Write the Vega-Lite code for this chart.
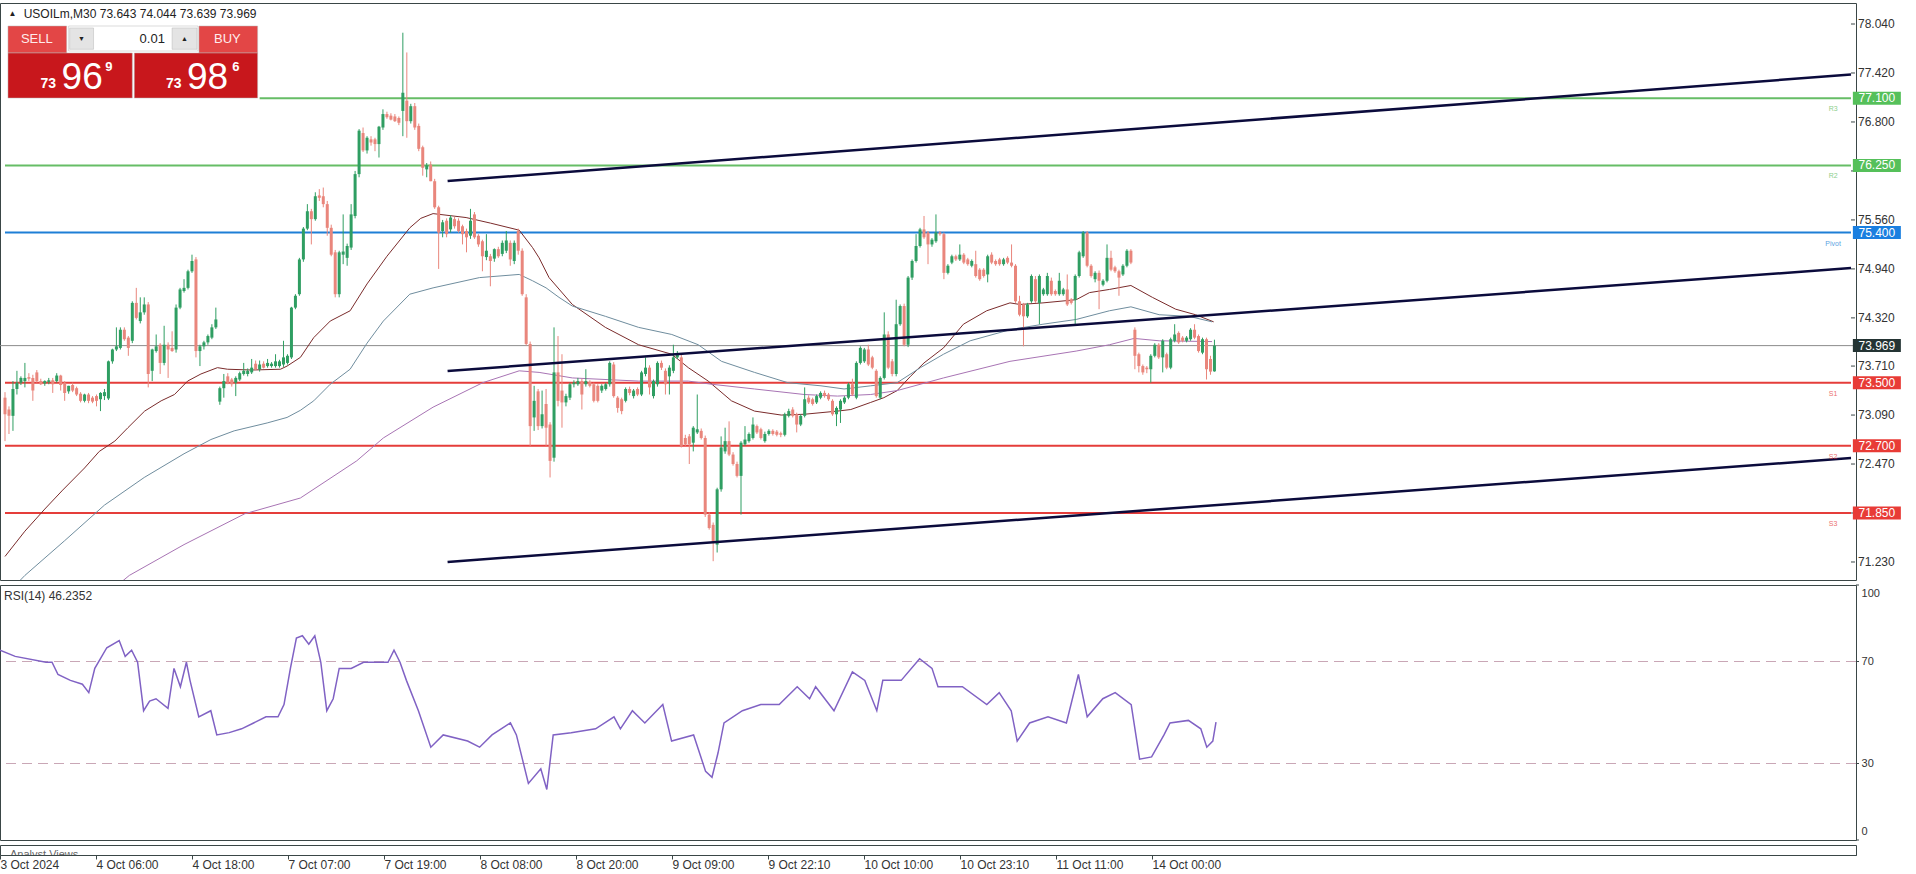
{
"$schema": "https://vega.github.io/schema/vega-lite/v6.json",
"background": "white",
"padding": {"left": -4, "top": 2, "right": 0, "bottom": 0},
"spacing": 3,
"config": {
  "view": {"stroke": "#3a4646", "strokeWidth": 1},
  "axis": {"labelFont": "Liberation Sans", "labelFontSize": 12, "labelColor": "#333333", "domainColor": "#3a4646", "tickColor": "#3a4646", "grid": false, "tickSize": 4},
  "text": {"font": "Liberation Sans"}
},
"datasets": {
"c": [
{"i":0,"o":73.31,"h":73.38,"l":72.76,"c":73.10},{"i":1,"o":73.16,"h":73.20,"l":72.85,"c":73.08},{"i":2,"o":73.08,"h":73.52,"l":72.89,"c":73.42},{"i":3,"o":73.42,"h":73.65,"l":73.35,"c":73.50},{"i":4,"o":73.50,"h":73.58,"l":73.47,"c":73.56},{"i":5,"o":73.52,"h":73.75,"l":73.44,"c":73.56},{"i":6,"o":73.57,"h":73.62,"l":73.52,"c":73.55},{"i":7,"o":73.56,"h":73.60,"l":73.27,"c":73.40},{"i":8,"o":73.63,"h":73.66,"l":73.50,"c":73.52},{"i":9,"o":73.52,"h":73.55,"l":73.47,"c":73.48},
{"i":10,"o":73.49,"h":73.53,"l":73.46,"c":73.52},{"i":11,"o":73.51,"h":73.56,"l":73.48,"c":73.53},{"i":12,"o":73.53,"h":73.56,"l":73.37,"c":73.48},{"i":13,"o":73.52,"h":73.62,"l":73.50,"c":73.59},{"i":14,"o":73.59,"h":73.60,"l":73.40,"c":73.47},{"i":15,"o":73.50,"h":73.52,"l":73.27,"c":73.37},{"i":16,"o":73.39,"h":73.46,"l":73.36,"c":73.46},{"i":17,"o":73.47,"h":73.50,"l":73.38,"c":73.40},{"i":18,"o":73.43,"h":73.45,"l":73.33,"c":73.35},{"i":19,"o":73.36,"h":73.38,"l":73.25,"c":73.27},
{"i":20,"o":73.27,"h":73.36,"l":73.25,"c":73.35},{"i":21,"o":73.35,"h":73.37,"l":73.24,"c":73.27},{"i":22,"o":73.31,"h":73.33,"l":73.24,"c":73.26},{"i":23,"o":73.33,"h":73.35,"l":73.20,"c":73.27},{"i":24,"o":73.29,"h":73.38,"l":73.14,"c":73.37},{"i":25,"o":73.33,"h":73.42,"l":73.28,"c":73.38},{"i":26,"o":73.30,"h":73.78,"l":73.28,"c":73.77},{"i":27,"o":73.77,"h":73.93,"l":73.74,"c":73.92},{"i":28,"o":73.92,"h":74.20,"l":73.90,"c":73.96},{"i":29,"o":73.94,"h":74.20,"l":73.92,"c":74.17},
{"i":30,"o":74.17,"h":74.20,"l":74.03,"c":74.05},{"i":31,"o":74.07,"h":74.09,"l":73.84,"c":73.94},{"i":32,"o":74.03,"h":74.53,"l":74.00,"c":74.51},{"i":33,"o":74.51,"h":74.70,"l":74.30,"c":74.32},{"i":34,"o":74.28,"h":74.58,"l":74.25,"c":74.39},{"i":35,"o":74.39,"h":74.58,"l":74.36,"c":74.49},{"i":36,"o":74.49,"h":74.52,"l":73.44,"c":73.61},{"i":37,"o":73.65,"h":73.93,"l":73.52,"c":73.92},{"i":38,"o":73.90,"h":74.11,"l":73.88,"c":73.96},{"i":39,"o":73.98,"h":74.00,"l":73.61,"c":73.75},
{"i":40,"o":73.75,"h":74.22,"l":73.72,"c":73.98},{"i":41,"o":73.98,"h":74.01,"l":73.56,"c":73.92},{"i":42,"o":73.94,"h":74.15,"l":73.89,"c":73.90},{"i":43,"o":73.92,"h":74.49,"l":73.88,"c":74.45},{"i":44,"o":74.45,"h":74.70,"l":74.43,"c":74.68},{"i":45,"o":74.66,"h":74.81,"l":74.64,"c":74.70},{"i":46,"o":74.70,"h":74.93,"l":74.68,"c":74.91},{"i":47,"o":74.91,"h":75.12,"l":74.89,"c":75.04},{"i":48,"o":75.06,"h":75.09,"l":73.82,"c":73.90},{"i":49,"o":73.90,"h":73.98,"l":73.71,"c":73.96},
{"i":50,"o":73.96,"h":74.03,"l":73.92,"c":74.01},{"i":51,"o":74.01,"h":74.11,"l":73.98,"c":74.09},{"i":52,"o":74.07,"h":74.24,"l":74.05,"c":74.20},{"i":53,"o":74.20,"h":74.45,"l":74.18,"c":74.30},{"i":54,"o":73.26,"h":73.45,"l":73.22,"c":73.43},{"i":55,"o":73.43,"h":73.61,"l":73.31,"c":73.52},{"i":56,"o":73.58,"h":73.62,"l":73.48,"c":73.50},{"i":57,"o":73.54,"h":73.56,"l":73.45,"c":73.48},{"i":58,"o":73.50,"h":73.58,"l":73.33,"c":73.56},{"i":59,"o":73.54,"h":73.64,"l":73.52,"c":73.62},
{"i":60,"o":73.61,"h":73.75,"l":73.59,"c":73.65},{"i":61,"o":73.61,"h":73.68,"l":73.58,"c":73.65},{"i":62,"o":73.63,"h":73.80,"l":73.61,"c":73.69},{"i":63,"o":73.74,"h":73.78,"l":73.66,"c":73.67},{"i":64,"o":73.67,"h":73.78,"l":73.64,"c":73.73},{"i":65,"o":73.74,"h":73.77,"l":73.68,"c":73.69},{"i":66,"o":73.71,"h":73.80,"l":73.69,"c":73.75},{"i":67,"o":73.71,"h":73.76,"l":73.69,"c":73.74},{"i":68,"o":73.71,"h":73.86,"l":73.69,"c":73.77},{"i":69,"o":73.71,"h":73.79,"l":73.69,"c":73.77},
{"i":70,"o":73.73,"h":74.03,"l":73.70,"c":73.82},{"i":71,"o":73.75,"h":73.86,"l":73.73,"c":73.84},{"i":72,"o":73.82,"h":74.46,"l":73.80,"c":74.45},{"i":73,"o":74.45,"h":74.62,"l":74.43,"c":74.60},{"i":74,"o":74.62,"h":75.08,"l":74.60,"c":75.06},{"i":75,"o":75.06,"h":75.47,"l":75.03,"c":75.45},{"i":76,"o":75.45,"h":75.76,"l":75.43,"c":75.67},{"i":77,"o":75.67,"h":75.70,"l":75.25,"c":75.57},{"i":78,"o":75.57,"h":75.91,"l":75.55,"c":75.86},{"i":79,"o":75.87,"h":75.95,"l":75.80,"c":75.84},
{"i":80,"o":75.86,"h":75.97,"l":75.72,"c":75.76},{"i":81,"o":75.76,"h":75.80,"l":75.36,"c":75.46},{"i":82,"o":75.46,"h":75.50,"l":75.10,"c":75.12},{"i":83,"o":75.15,"h":75.18,"l":74.58,"c":74.62},{"i":84,"o":74.62,"h":75.17,"l":74.58,"c":75.15},{"i":85,"o":75.12,"h":75.63,"l":75.00,"c":75.16},{"i":86,"o":75.08,"h":75.26,"l":74.98,"c":75.23},{"i":87,"o":75.21,"h":75.76,"l":75.18,"c":75.63},{"i":88,"o":75.61,"h":76.18,"l":75.58,"c":76.14},{"i":89,"o":76.14,"h":76.71,"l":76.10,"c":76.69},
{"i":90,"o":76.66,"h":76.73,"l":76.42,"c":76.44},{"i":91,"o":76.44,"h":76.62,"l":76.40,"c":76.60},{"i":92,"o":76.58,"h":76.62,"l":76.50,"c":76.54},{"i":93,"o":76.58,"h":76.60,"l":76.43,"c":76.52},{"i":94,"o":76.52,"h":76.75,"l":76.35,"c":76.74},{"i":95,"o":76.73,"h":76.96,"l":76.70,"c":76.90},{"i":96,"o":76.90,"h":76.93,"l":76.84,"c":76.86},{"i":97,"o":76.88,"h":76.91,"l":76.82,"c":76.83},{"i":98,"o":76.87,"h":76.90,"l":76.80,"c":76.81},{"i":99,"o":76.85,"h":76.87,"l":76.76,"c":76.79},
{"i":100,"o":76.94,"h":77.93,"l":76.62,"c":77.17},{"i":101,"o":77.07,"h":77.68,"l":76.60,"c":76.81},{"i":102,"o":76.81,"h":77.03,"l":76.78,"c":77.00},{"i":103,"o":77.00,"h":77.04,"l":76.70,"c":76.73},{"i":104,"o":76.75,"h":76.78,"l":76.43,"c":76.46},{"i":105,"o":76.48,"h":76.50,"l":76.12,"c":76.22},{"i":106,"o":76.20,"h":76.28,"l":76.10,"c":76.25},{"i":107,"o":76.26,"h":76.30,"l":76.05,"c":76.05},{"i":108,"o":76.05,"h":76.08,"l":75.70,"c":75.72},{"i":109,"o":75.72,"h":75.74,"l":74.94,"c":75.40},
{"i":110,"o":75.42,"h":75.56,"l":75.34,"c":75.53},{"i":111,"o":75.55,"h":75.58,"l":75.34,"c":75.38},{"i":112,"o":75.44,"h":75.62,"l":75.40,"c":75.59},{"i":113,"o":75.57,"h":75.60,"l":75.45,"c":75.48},{"i":114,"o":75.55,"h":75.58,"l":75.40,"c":75.42},{"i":115,"o":75.48,"h":75.50,"l":75.25,"c":75.38},{"i":116,"o":75.42,"h":75.45,"l":75.15,"c":75.34},{"i":117,"o":75.36,"h":75.70,"l":75.32,"c":75.55},{"i":118,"o":75.63,"h":75.66,"l":75.32,"c":75.34},{"i":119,"o":75.36,"h":75.38,"l":75.22,"c":75.25},
{"i":120,"o":75.29,"h":75.31,"l":74.91,"c":75.10},{"i":121,"o":75.09,"h":75.38,"l":75.05,"c":75.17},{"i":122,"o":75.10,"h":75.13,"l":74.72,"c":75.04},{"i":123,"o":75.07,"h":75.20,"l":75.03,"c":75.19},{"i":124,"o":75.19,"h":75.22,"l":75.08,"c":75.10},{"i":125,"o":75.13,"h":75.30,"l":75.10,"c":75.27},{"i":126,"o":75.17,"h":75.42,"l":75.14,"c":75.30},{"i":127,"o":75.27,"h":75.30,"l":74.98,"c":75.06},{"i":128,"o":75.04,"h":75.30,"l":75.00,"c":75.27},{"i":129,"o":75.42,"h":75.45,"l":75.12,"c":75.17},
{"i":130,"o":75.17,"h":75.20,"l":74.60,"c":74.62},{"i":131,"o":74.58,"h":74.62,"l":73.97,"c":73.99},{"i":132,"o":73.99,"h":74.02,"l":72.70,"c":72.95},{"i":133,"o":73.06,"h":73.46,"l":72.89,"c":73.27},{"i":134,"o":73.39,"h":73.42,"l":72.90,"c":72.95},{"i":135,"o":72.95,"h":73.40,"l":72.92,"c":73.10},{"i":136,"o":73.23,"h":73.42,"l":72.70,"c":72.93},{"i":137,"o":72.97,"h":73.00,"l":72.30,"c":72.51},{"i":138,"o":72.55,"h":74.20,"l":72.50,"c":73.63},{"i":139,"o":73.63,"h":74.09,"l":73.20,"c":73.27},
{"i":140,"o":73.40,"h":73.86,"l":72.93,"c":73.25},{"i":141,"o":73.25,"h":73.36,"l":73.20,"c":73.33},{"i":142,"o":73.31,"h":73.50,"l":73.28,"c":73.48},{"i":143,"o":73.48,"h":73.53,"l":73.44,"c":73.50},{"i":144,"o":73.48,"h":73.56,"l":73.46,"c":73.52},{"i":145,"o":73.52,"h":73.55,"l":73.16,"c":73.35},{"i":146,"o":73.48,"h":73.67,"l":73.45,"c":73.52},{"i":147,"o":73.51,"h":73.53,"l":73.44,"c":73.46},{"i":148,"o":73.48,"h":73.50,"l":73.25,"c":73.27},{"i":149,"o":73.46,"h":73.48,"l":73.25,"c":73.27},
{"i":150,"o":73.40,"h":73.48,"l":73.37,"c":73.46},{"i":151,"o":73.42,"h":73.50,"l":73.40,"c":73.48},{"i":152,"o":73.48,"h":73.77,"l":73.45,"c":73.75},{"i":153,"o":73.73,"h":73.76,"l":73.31,"c":73.33},{"i":154,"o":73.31,"h":73.33,"l":73.12,"c":73.18},{"i":155,"o":73.29,"h":73.31,"l":73.10,"c":73.14},{"i":156,"o":73.27,"h":73.44,"l":73.25,"c":73.42},{"i":157,"o":73.42,"h":73.45,"l":73.34,"c":73.37},{"i":158,"o":73.33,"h":73.42,"l":73.30,"c":73.40},{"i":159,"o":73.42,"h":73.44,"l":73.33,"c":73.35},
{"i":160,"o":73.35,"h":73.65,"l":73.33,"c":73.63},{"i":161,"o":73.61,"h":73.82,"l":73.58,"c":73.69},{"i":162,"o":73.69,"h":73.72,"l":73.35,"c":73.44},{"i":163,"o":73.33,"h":73.54,"l":73.30,"c":73.52},{"i":164,"o":73.48,"h":73.77,"l":73.45,"c":73.75},{"i":165,"o":73.75,"h":73.78,"l":73.66,"c":73.69},{"i":166,"o":73.65,"h":73.68,"l":73.35,"c":73.48},{"i":167,"o":73.58,"h":73.72,"l":73.35,"c":73.69},{"i":168,"o":73.65,"h":73.98,"l":73.62,"c":73.82},{"i":169,"o":73.82,"h":73.90,"l":73.80,"c":73.86},
{"i":170,"o":73.82,"h":73.85,"l":72.68,"c":72.70},{"i":171,"o":72.80,"h":72.84,"l":72.70,"c":72.72},{"i":172,"o":72.82,"h":72.85,"l":72.47,"c":72.72},{"i":173,"o":72.74,"h":72.95,"l":72.63,"c":72.93},{"i":174,"o":72.87,"h":73.35,"l":72.85,"c":72.91},{"i":175,"o":72.89,"h":72.92,"l":72.78,"c":72.80},{"i":176,"o":72.80,"h":72.83,"l":71.80,"c":71.83},{"i":177,"o":71.83,"h":71.86,"l":71.64,"c":71.66},{"i":178,"o":71.70,"h":71.73,"l":71.24,"c":71.47},{"i":179,"o":71.45,"h":72.17,"l":71.35,"c":72.15},
{"i":180,"o":72.15,"h":72.82,"l":72.12,"c":72.68},{"i":181,"o":72.63,"h":72.93,"l":72.60,"c":72.76},{"i":182,"o":72.76,"h":73.01,"l":72.57,"c":72.59},{"i":183,"o":72.59,"h":72.62,"l":72.45,"c":72.47},{"i":184,"o":72.47,"h":72.50,"l":72.30,"c":72.32},{"i":185,"o":72.32,"h":72.76,"l":71.83,"c":72.74},{"i":186,"o":72.72,"h":72.95,"l":72.70,"c":72.78},{"i":187,"o":72.76,"h":72.87,"l":72.74,"c":72.85},{"i":188,"o":72.80,"h":73.06,"l":72.78,"c":72.97},{"i":189,"o":72.95,"h":72.97,"l":72.85,"c":72.87},
{"i":190,"o":72.91,"h":72.93,"l":72.78,"c":72.80},{"i":191,"o":72.76,"h":72.88,"l":72.74,"c":72.85},{"i":192,"o":72.85,"h":72.91,"l":72.83,"c":72.89},{"i":193,"o":72.89,"h":72.91,"l":72.83,"c":72.85},{"i":194,"o":72.88,"h":72.90,"l":72.82,"c":72.84},{"i":195,"o":72.86,"h":72.88,"l":72.81,"c":72.84},{"i":196,"o":72.84,"h":73.12,"l":72.82,"c":73.10},{"i":197,"o":73.08,"h":73.17,"l":73.06,"c":73.14},{"i":198,"o":73.16,"h":73.19,"l":73.06,"c":73.08},{"i":199,"o":73.10,"h":73.12,"l":72.87,"c":72.97},
{"i":200,"o":72.97,"h":73.10,"l":72.95,"c":73.08},{"i":201,"o":73.08,"h":73.44,"l":73.06,"c":73.29},{"i":202,"o":73.31,"h":73.34,"l":73.23,"c":73.25},{"i":203,"o":73.29,"h":73.31,"l":73.21,"c":73.23},{"i":204,"o":73.25,"h":73.35,"l":73.23,"c":73.33},{"i":205,"o":73.31,"h":73.39,"l":73.29,"c":73.37},{"i":206,"o":73.37,"h":73.40,"l":73.31,"c":73.33},{"i":207,"o":73.35,"h":73.37,"l":73.27,"c":73.29},{"i":208,"o":73.27,"h":73.29,"l":73.08,"c":73.10},{"i":209,"o":73.10,"h":73.20,"l":72.95,"c":73.18},
{"i":210,"o":73.16,"h":73.29,"l":72.99,"c":73.27},{"i":211,"o":73.25,"h":73.33,"l":73.23,"c":73.31},{"i":212,"o":73.31,"h":73.50,"l":73.29,"c":73.48},{"i":213,"o":73.48,"h":73.55,"l":73.33,"c":73.35},{"i":214,"o":73.31,"h":73.77,"l":73.29,"c":73.75},{"i":215,"o":73.75,"h":73.96,"l":73.73,"c":73.94},{"i":216,"o":73.77,"h":73.94,"l":73.75,"c":73.92},{"i":217,"o":73.92,"h":73.98,"l":73.71,"c":73.73},{"i":218,"o":73.82,"h":73.84,"l":73.67,"c":73.69},{"i":219,"o":73.65,"h":73.67,"l":73.31,"c":73.33},
{"i":220,"o":73.31,"h":73.58,"l":73.29,"c":73.56},{"i":221,"o":73.56,"h":74.39,"l":73.54,"c":74.11},{"i":222,"o":74.11,"h":74.15,"l":73.67,"c":73.69},{"i":223,"o":73.77,"h":73.80,"l":73.58,"c":73.61},{"i":224,"o":73.61,"h":74.55,"l":73.58,"c":74.24},{"i":225,"o":74.24,"h":74.49,"l":74.22,"c":74.47},{"i":226,"o":74.47,"h":74.50,"l":73.96,"c":73.98},{"i":227,"o":73.98,"h":74.85,"l":73.95,"c":74.83},{"i":228,"o":74.83,"h":75.06,"l":74.80,"c":75.04},{"i":229,"o":75.04,"h":75.38,"l":75.02,"c":75.23},
{"i":230,"o":75.23,"h":75.46,"l":75.21,"c":75.44},{"i":231,"o":75.44,"h":75.61,"l":75.32,"c":75.34},{"i":232,"o":75.40,"h":75.42,"l":75.00,"c":75.25},{"i":233,"o":75.25,"h":75.33,"l":75.22,"c":75.31},{"i":234,"o":75.29,"h":75.63,"l":75.27,"c":75.40},{"i":235,"o":75.40,"h":75.42,"l":75.36,"c":75.38},{"i":236,"o":75.38,"h":75.40,"l":74.81,"c":74.89},{"i":237,"o":74.89,"h":75.00,"l":74.87,"c":74.98},{"i":238,"o":75.02,"h":75.12,"l":75.00,"c":75.10},{"i":239,"o":75.10,"h":75.12,"l":75.04,"c":75.06},
{"i":240,"o":75.06,"h":75.25,"l":75.04,"c":75.12},{"i":241,"o":75.12,"h":75.14,"l":75.00,"c":75.02},{"i":242,"o":75.06,"h":75.08,"l":74.98,"c":75.00},{"i":243,"o":74.98,"h":75.06,"l":74.96,"c":75.04},{"i":244,"o":75.00,"h":75.17,"l":74.83,"c":74.85},{"i":245,"o":74.93,"h":74.95,"l":74.79,"c":74.81},{"i":246,"o":74.93,"h":74.95,"l":74.83,"c":74.85},{"i":247,"o":74.87,"h":75.12,"l":74.77,"c":75.10},{"i":248,"o":75.12,"h":75.15,"l":75.00,"c":75.02},{"i":249,"o":75.04,"h":75.06,"l":74.98,"c":75.00},
{"i":250,"o":75.06,"h":75.08,"l":74.98,"c":75.00},{"i":251,"o":75.00,"h":75.08,"l":74.98,"c":75.06},{"i":252,"o":75.08,"h":75.10,"l":75.00,"c":75.02},{"i":253,"o":75.02,"h":75.25,"l":74.96,"c":74.98},{"i":254,"o":74.98,"h":75.00,"l":74.51,"c":74.53},{"i":255,"o":74.53,"h":74.60,"l":74.34,"c":74.36},{"i":256,"o":74.49,"h":74.51,"l":73.96,"c":74.34},{"i":257,"o":74.34,"h":74.51,"l":74.32,"c":74.49},{"i":258,"o":74.53,"h":74.87,"l":74.51,"c":74.85},{"i":259,"o":74.81,"h":74.85,"l":74.51,"c":74.53},
{"i":260,"o":74.51,"h":74.87,"l":74.24,"c":74.85},{"i":261,"o":74.62,"h":74.70,"l":74.60,"c":74.68},{"i":262,"o":74.62,"h":74.89,"l":74.60,"c":74.85},{"i":263,"o":74.79,"h":74.83,"l":74.60,"c":74.62},{"i":264,"o":74.66,"h":74.68,"l":74.60,"c":74.62},{"i":265,"o":74.62,"h":74.89,"l":74.60,"c":74.79},{"i":266,"o":74.62,"h":74.70,"l":74.60,"c":74.68},{"i":267,"o":74.68,"h":74.87,"l":74.47,"c":74.49},{"i":268,"o":74.55,"h":74.57,"l":74.49,"c":74.51},{"i":269,"o":74.55,"h":74.87,"l":74.24,"c":74.85},
{"i":270,"o":74.85,"h":75.17,"l":74.83,"c":75.15},{"i":271,"o":75.10,"h":75.42,"l":75.08,"c":75.40},{"i":272,"o":75.40,"h":75.42,"l":74.96,"c":74.98},{"i":273,"o":74.98,"h":75.00,"l":74.83,"c":74.85},{"i":274,"o":74.81,"h":74.91,"l":74.77,"c":74.89},{"i":275,"o":74.89,"h":74.92,"l":74.43,"c":74.79},{"i":276,"o":74.74,"h":74.81,"l":74.72,"c":74.79},{"i":277,"o":74.79,"h":75.25,"l":74.77,"c":75.08},{"i":278,"o":75.08,"h":75.17,"l":74.91,"c":74.93},{"i":279,"o":74.96,"h":74.98,"l":74.89,"c":74.91},
{"i":280,"o":74.91,"h":74.93,"l":74.60,"c":74.83},{"i":281,"o":74.87,"h":75.00,"l":74.85,"c":74.98},{"i":282,"o":74.98,"h":75.19,"l":74.96,"c":75.17},{"i":283,"o":75.17,"h":75.19,"l":75.00,"c":75.02},{"i":284,"o":74.17,"h":74.20,"l":73.67,"c":73.84},{"i":285,"o":73.86,"h":73.88,"l":73.63,"c":73.71},{"i":286,"o":73.71,"h":73.73,"l":73.60,"c":73.63},{"i":287,"o":73.69,"h":73.71,"l":73.62,"c":73.67},{"i":288,"o":73.67,"h":73.86,"l":73.50,"c":73.84},{"i":289,"o":73.84,"h":74.00,"l":73.82,"c":73.98},
{"i":290,"o":73.98,"h":74.00,"l":73.80,"c":73.82},{"i":291,"o":73.82,"h":74.05,"l":73.63,"c":74.03},{"i":292,"o":73.86,"h":73.88,"l":73.67,"c":73.69},{"i":293,"o":73.69,"h":74.07,"l":73.67,"c":74.05},{"i":294,"o":74.03,"h":74.24,"l":74.01,"c":74.11},{"i":295,"o":74.13,"h":74.15,"l":73.99,"c":74.01},{"i":296,"o":74.07,"h":74.09,"l":74.01,"c":74.03},{"i":297,"o":74.03,"h":74.09,"l":74.01,"c":74.07},{"i":298,"o":74.05,"h":74.19,"l":74.03,"c":74.17},{"i":299,"o":74.17,"h":74.24,"l":74.05,"c":74.07},
{"i":300,"o":74.09,"h":74.11,"l":73.88,"c":73.90},{"i":301,"o":73.88,"h":74.07,"l":73.86,"c":74.05},{"i":302,"o":74.05,"h":74.07,"l":73.54,"c":73.67},{"i":303,"o":73.80,"h":73.84,"l":73.60,"c":73.64},{"i":304,"o":73.643,"h":74.044,"l":73.639,"c":73.969}
],
"ma": [
{"k":"m1","i":0,"v":71.30},{"k":"m1","i":5,"v":71.62},{"k":"m1","i":10,"v":71.90},{"k":"m1","i":14.5,"v":72.14},{"k":"m1","i":20,"v":72.42},{"k":"m1","i":23.7,"v":72.63},{"k":"m1","i":27.6,"v":72.76},{"k":"m1","i":30.9,"v":72.93},{"k":"m1","i":35.1,"v":73.14},{"k":"m1","i":39.25,"v":73.27},{"k":"m1","i":42.6,"v":73.35},{"k":"m1","i":45.9,"v":73.52},{"k":"m1","i":49.25,"v":73.61},{"k":"m1","i":53.4,"v":73.69},{"k":"m1","i":55.9,"v":73.67},{"k":"m1","i":62,"v":73.66},{"k":"m1","i":69.25,"v":73.67},{"k":"m1","i":70.9,"v":73.71},{"k":"m1","i":74.25,"v":73.82},{"k":"m1","i":77.6,"v":74.07},{"k":"m1","i":81.75,"v":74.28},{"k":"m1","i":86.75,"v":74.41},{"k":"m1","i":91,"v":74.75},{"k":"m1","i":96,"v":75.10},{"k":"m1","i":101.75,"v":75.46},{"k":"m1","i":104.5,"v":75.58},{"k":"m1","i":107.6,"v":75.64},{"k":"m1","i":115.9,"v":75.59},{"k":"m1","i":122,"v":75.52},{"k":"m1","i":129.25,"v":75.43},{"k":"m1","i":132.6,"v":75.21},{"k":"m1","i":134.25,"v":75.08},{"k":"m1","i":136.75,"v":74.83},{"k":"m1","i":142.6,"v":74.49},{"k":"m1","i":150.9,"v":74.20},{"k":"m1","i":159.25,"v":73.98},{"k":"m1","i":167.6,"v":73.86},{"k":"m1","i":171.75,"v":73.69},{"k":"m1","i":176.75,"v":73.52},{"k":"m1","i":182.6,"v":73.27},{"k":"m1","i":188.4,"v":73.14},{"k":"m1","i":195.1,"v":73.09},{"k":"m1","i":200.9,"v":73.10},{"k":"m1","i":209.25,"v":73.14},{"k":"m1","i":212.6,"v":73.16},{"k":"m1","i":217.6,"v":73.25},{"k":"m1","i":220.9,"v":73.31},{"k":"m1","i":224.25,"v":73.40},{"k":"m1","i":227.6,"v":73.58},{"k":"m1","i":231,"v":73.75},{"k":"m1","i":235.9,"v":73.94},{"k":"m1","i":240.9,"v":74.24},{"k":"m1","i":246.75,"v":74.41},{"k":"m1","i":252.6,"v":74.51},{"k":"m1","i":255.1,"v":74.49},{"k":"m1","i":260.9,"v":74.51},{"k":"m1","i":269.25,"v":74.55},{"k":"m1","i":272.6,"v":74.64},{"k":"m1","i":277.6,"v":74.68},{"k":"m1","i":283,"v":74.73},{"k":"m1","i":288.4,"v":74.58},{"k":"m1","i":294.25,"v":74.43},{"k":"m1","i":299.25,"v":74.36},{"k":"m1","i":303.8,"v":74.27},
{"k":"m2","i":0,"v":70.80},{"k":"m2","i":5,"v":71.06},{"k":"m2","i":15,"v":71.50},{"k":"m2","i":25,"v":71.95},{"k":"m2","i":35,"v":72.30},{"k":"m2","i":45,"v":72.60},{"k":"m2","i":51.75,"v":72.78},{"k":"m2","i":57.6,"v":72.89},{"k":"m2","i":65.9,"v":72.99},{"k":"m2","i":70.9,"v":73.06},{"k":"m2","i":74.25,"v":73.15},{"k":"m2","i":77.6,"v":73.27},{"k":"m2","i":81.75,"v":73.48},{"k":"m2","i":86.75,"v":73.67},{"k":"m2","i":91,"v":74.00},{"k":"m2","i":95.1,"v":74.28},{"k":"m2","i":101.75,"v":74.62},{"k":"m2","i":107.6,"v":74.70},{"k":"m2","i":119.25,"v":74.83},{"k":"m2","i":129.25,"v":74.87},{"k":"m2","i":132.6,"v":74.79},{"k":"m2","i":136,"v":74.70},{"k":"m2","i":139.25,"v":74.58},{"k":"m2","i":142.6,"v":74.47},{"k":"m2","i":150.9,"v":74.34},{"k":"m2","i":159.25,"v":74.20},{"k":"m2","i":167.6,"v":74.11},{"k":"m2","i":174.25,"v":73.98},{"k":"m2","i":180.1,"v":73.77},{"k":"m2","i":188.4,"v":73.63},{"k":"m2","i":196.75,"v":73.50},{"k":"m2","i":205.1,"v":73.46},{"k":"m2","i":210.9,"v":73.42},{"k":"m2","i":217.6,"v":73.46},{"k":"m2","i":224.25,"v":73.50},{"k":"m2","i":230.1,"v":73.69},{"k":"m2","i":235.9,"v":73.86},{"k":"m2","i":242.6,"v":74.03},{"k":"m2","i":252.6,"v":74.17},{"k":"m2","i":260.9,"v":74.24},{"k":"m2","i":269.25,"v":74.30},{"k":"m2","i":277.6,"v":74.41},{"k":"m2","i":283,"v":74.46},{"k":"m2","i":290.1,"v":74.36},{"k":"m2","i":297.6,"v":74.34},{"k":"m2","i":303.4,"v":74.27},
{"k":"m3","i":25,"v":70.80},{"k":"m3","i":31.25,"v":71.06},{"k":"m3","i":45,"v":71.45},{"k":"m3","i":60.25,"v":71.84},{"k":"m3","i":74.25,"v":72.04},{"k":"m3","i":88.4,"v":72.51},{"k":"m3","i":95.1,"v":72.80},{"k":"m3","i":107.6,"v":73.19},{"k":"m3","i":120.1,"v":73.50},{"k":"m3","i":129.25,"v":73.65},{"k":"m3","i":134.25,"v":73.63},{"k":"m3","i":142.6,"v":73.56},{"k":"m3","i":159.25,"v":73.52},{"k":"m3","i":171.75,"v":73.52},{"k":"m3","i":177.6,"v":73.48},{"k":"m3","i":188.4,"v":73.42},{"k":"m3","i":200.9,"v":73.35},{"k":"m3","i":209.25,"v":73.33},{"k":"m3","i":217.6,"v":73.35},{"k":"m3","i":224.25,"v":73.40},{"k":"m3","i":235.9,"v":73.56},{"k":"m3","i":252.6,"v":73.77},{"k":"m3","i":269.25,"v":73.90},{"k":"m3","i":277.6,"v":73.98},{"k":"m3","i":283.8,"v":74.06},{"k":"m3","i":290.1,"v":74.03},{"k":"m3","i":303.4,"v":74.02}
],
"tl": [
{"k":"a","i":111.25,"p":76.053},{"k":"a","i":464,"p":77.40},
{"k":"b","i":111.25,"p":73.648},{"k":"b","i":464,"p":74.95},
{"k":"c","i":111.25,"p":71.23},{"k":"c","i":464,"p":72.546}
],
"lv": [
{"t":"R","lab":"R3","p":77.1,"x0":64,"txt":"77.100"},
{"t":"R","lab":"R2","p":76.25,"x0":0,"txt":"76.250"},
{"t":"P","lab":"Pivot","p":75.4,"x0":0,"txt":"75.400"},
{"t":"S","lab":"S1","p":73.5,"x0":0,"txt":"73.500"},
{"t":"S","lab":"S2","p":72.7,"x0":0,"txt":"72.700"},
{"t":"S","lab":"S3","p":71.85,"x0":0,"txt":"71.850"}
],
"cur": [{"t":"C","p":73.969,"txt":"73.969"}],
"yt": [{"p":78.04},{"p":77.42},{"p":76.8},{"p":76.18},{"p":75.56},{"p":74.94},{"p":74.32},{"p":73.71},{"p":73.09},{"p":72.47},{"p":71.85},{"p":71.23}],
"ytl": [{"p":78.04},{"p":77.42},{"p":76.8},{"p":75.56},{"p":74.94},{"p":74.32},{"p":73.71},{"p":73.09},{"p":72.47},{"p":71.23}],
"ui": [
{"part":"hdr","x1":0.75,"x2":15.5,"y1":78.015,"y2":77.673},
{"part":"hdr","x1":48.75,"x2":63.5,"y1":78.015,"y2":77.673},
{"part":"box","x1":16,"x2":48.5,"y1":78.015,"y2":77.698},
{"part":"btn","x1":16.25,"x2":22.25,"y1":77.99,"y2":77.72},
{"part":"btn","x1":42,"x2":48.25,"y1":77.99,"y2":77.72},
{"part":"big","x1":0.75,"x2":32,"y1":77.673,"y2":77.103},
{"part":"big","x1":32.5,"x2":63.5,"y1":77.673,"y2":77.103}
],
"rsi": [
{"i":0,"v":74.4},{"i":3.8,"v":72.0},{"i":11.5,"v":69.7},{"i":13,"v":69.7},{"i":14.5,"v":64.9},{"i":17.6,"v":62.6},{"i":20.6,"v":61.1},{"i":22.2,"v":57.8},{"i":23.7,"v":67.3},{"i":26.7,"v":75.4},{"i":29.8,"v":78.2},{"i":31.3,"v":72.0},{"i":32.9,"v":74.4},{"i":34.4,"v":69.7},{"i":35.9,"v":50.7},{"i":37.4,"v":54.5},{"i":39,"v":55.4},{"i":42,"v":51.6},{"i":43.5,"v":67.3},{"i":45.1,"v":60.1},{"i":46.6,"v":69.7},{"i":47.5,"v":62.6},{"i":49.7,"v":48.3},{"i":52.7,"v":50.7},{"i":54.2,"v":41.2},{"i":57.3,"v":42.1},{"i":60.4,"v":43.6},{"i":63.4,"v":45.9},{"i":66.5,"v":48.3},{"i":69.5,"v":48.3},{"i":71,"v":53.1},{"i":72.6,"v":67.3},{"i":74.1,"v":79.2},{"i":75.6,"v":80.1},{"i":77.2,"v":76.8},{"i":78.7,"v":80.1},{"i":80.2,"v":69.7},{"i":81.7,"v":50.7},{"i":83.3,"v":55.4},{"i":84.8,"v":67.3},{"i":87.8,"v":67.3},{"i":90.9,"v":69.7},{"i":94,"v":69.7},{"i":97,"v":69.7},{"i":98.5,"v":74.4},{"i":100,"v":69.7},{"i":101.6,"v":62.6},{"i":104.6,"v":50.7},{"i":107.7,"v":36.4},{"i":110.8,"v":41.2},{"i":116.9,"v":38.8},{"i":119.9,"v":36.4},{"i":123,"v":41.2},{"i":127.6,"v":45.9},{"i":129.1,"v":41.2},{"i":130.6,"v":31.7},{"i":132.1,"v":22.2},{"i":135.2,"v":27.9},{"i":136.7,"v":19.8},{"i":138.3,"v":41.2},{"i":142.8,"v":42.1},{"i":148.9,"v":43.6},{"i":153.5,"v":48.3},{"i":155.1,"v":43.6},{"i":158.1,"v":50.7},{"i":161.2,"v":45.9},{"i":165.7,"v":53.1},{"i":167.9,"v":38.8},{"i":173.4,"v":41.2},{"i":176.4,"v":26.9},{"i":178,"v":24.6},{"i":179.5,"v":34.1},{"i":181,"v":45.9},{"i":185.6,"v":50.7},{"i":190.2,"v":53.1},{"i":194.8,"v":53.1},{"i":199.3,"v":60.1},{"i":202.4,"v":55.4},{"i":203.9,"v":60.1},{"i":208.5,"v":50.7},{"i":213.1,"v":65.9},{"i":216.2,"v":62.6},{"i":219.2,"v":50.7},{"i":220.7,"v":62.6},{"i":225.3,"v":62.6},{"i":229.9,"v":71.1},{"i":233,"v":67.3},{"i":234.5,"v":60.1},{"i":240.6,"v":60.1},{"i":246.7,"v":53.1},{"i":249.8,"v":57.8},{"i":252.8,"v":50.7},{"i":254.3,"v":38.8},{"i":257.4,"v":45.9},{"i":262,"v":48.3},{"i":266.6,"v":45.9},{"i":269.6,"v":64.9},{"i":271.8,"v":48.3},{"i":275.7,"v":55.4},{"i":278.8,"v":57.8},{"i":282.8,"v":53.1},{"i":284.9,"v":31.7},{"i":287.9,"v":32.6},{"i":291,"v":41.2},{"i":292.5,"v":45.9},{"i":297.1,"v":46.9},{"i":300.2,"v":43.6},{"i":301.7,"v":36.4},{"i":303.2,"v":38.8},{"i":304,"v":46.2}
]
},
"vconcat": [
{
 "width": 1856, "height": 577,
 "resolve": {"scale": {"color": "independent"}},
 "layer": [
  {"data": {"name": "lv"}, "mark": {"type": "rule", "strokeWidth": 2},
   "encoding": {
    "x": {"field": "x0", "type": "quantitative", "scale": {"domain": [0, 464], "nice": false, "zero": false}, "axis": null},
    "x2": {"datum": 464},
    "y": {"field": "p", "type": "quantitative", "scale": {"domain": [71.002, 78.306], "nice": false, "zero": false}, "axis": null},
    "color": {"field": "t", "type": "nominal", "scale": {"domain": ["R", "P", "S"], "range": ["#66bd66", "#1e7fd6", "#e53d3a"]}, "legend": null}}},
  {"data": {"name": "cur"}, "mark": {"type": "rule", "strokeWidth": 1, "color": "#8c8c8c"},
   "encoding": {"y": {"field": "p", "type": "quantitative", "axis": null}}},
  {"data": {"name": "ma"}, "mark": {"type": "line", "strokeWidth": 1, "clip": true},
   "encoding": {
    "x": {"field": "i", "type": "quantitative", "axis": null},
    "y": {"field": "v", "type": "quantitative", "axis": null},
    "color": {"field": "k", "type": "nominal", "scale": {"domain": ["m1", "m2", "m3"], "range": ["#7a2b2b", "#6f8d9e", "#a874b4"]}, "legend": null}}},
  {"data": {"name": "c"}, "mark": {"type": "rule", "strokeWidth": 1},
   "encoding": {
    "x": {"field": "i", "type": "quantitative", "axis": null},
    "y": {"field": "l", "type": "quantitative", "axis": null},
    "y2": {"field": "h"},
    "color": {"condition": {"test": "datum.c >= datum.o", "value": "#2f9e62"}, "value": "#e9867c"}}},
  {"data": {"name": "c"}, "mark": {"type": "bar", "width": 3, "orient": "vertical"},
   "encoding": {
    "x": {"field": "i", "type": "quantitative", "axis": null},
    "y": {"field": "o", "type": "quantitative", "axis": null},
    "y2": {"field": "c"},
    "color": {"condition": {"test": "datum.c >= datum.o", "value": "#2f9e62"}, "value": "#e9867c"}}},
  {"data": {"name": "tl"}, "mark": {"type": "line", "strokeWidth": 2.5, "color": "#0b0b3c", "clip": true},
   "encoding": {
    "x": {"field": "i", "type": "quantitative", "axis": null},
    "y": {"field": "p", "type": "quantitative", "axis": null},
    "detail": {"field": "k"}}},
  {"data": {"name": "yt"}, "mark": {"type": "rule", "color": "#3a4646", "strokeWidth": 1},
   "encoding": {"x": {"datum": 464, "axis": null}, "x2": {"datum": 465}, "y": {"field": "p", "type": "quantitative", "axis": null}}},
  {"data": {"name": "ytl"}, "mark": {"type": "text", "fontSize": 12, "color": "#333333", "align": "left", "baseline": "middle"},
   "encoding": {"x": {"datum": 465.75, "axis": null}, "y": {"field": "p", "type": "quantitative", "axis": null}, "text": {"field": "p", "type": "quantitative", "format": ".3f"}}},
  {"data": {"name": "lv"}, "mark": {"type": "text", "fontSize": 7, "dy": 11, "align": "center", "opacity": 0.75},
   "encoding": {
    "x": {"datum": 459.5, "axis": null},
    "y": {"field": "p", "type": "quantitative", "axis": null},
    "text": {"field": "lab"},
    "color": {"field": "t", "type": "nominal", "scale": {"domain": ["R", "P", "S"], "range": ["#66bd66", "#1e7fd6", "#e53d3a"]}, "legend": null}}},
  {"data": {"name": "lv"}, "mark": {"type": "tick", "orient": "horizontal", "size": 48, "thickness": 13, "opacity": 1},
   "encoding": {
    "x": {"datum": 470.5, "axis": null},
    "y": {"field": "p", "type": "quantitative", "axis": null},
    "color": {"field": "t", "type": "nominal", "scale": {"domain": ["R", "P", "S"], "range": ["#55c05a", "#1a7fe0", "#e83b36"]}, "legend": null}}},
  {"data": {"name": "cur"}, "mark": {"type": "tick", "orient": "horizontal", "size": 48, "thickness": 13, "opacity": 1, "color": "#243434"},
   "encoding": {
    "x": {"datum": 470.5, "axis": null},
    "y": {"field": "p", "type": "quantitative", "axis": null}}},
  {"data": {"name": "lv"}, "mark": {"type": "text", "fontSize": 12, "color": "white", "align": "center", "baseline": "middle"},
   "encoding": {"x": {"datum": 470.5, "axis": null}, "y": {"field": "p", "type": "quantitative", "axis": null}, "text": {"field": "txt"}}},
  {"data": {"name": "cur"}, "mark": {"type": "text", "fontSize": 12, "color": "white", "align": "center", "baseline": "middle"},
   "encoding": {"x": {"datum": 470.5, "axis": null}, "y": {"field": "p", "type": "quantitative", "axis": null}, "text": {"field": "txt"}}},
  {"data": {"name": "ui"}, "mark": {"type": "rect", "stroke": "#b8b8b8", "strokeWidth": 0.5},
   "encoding": {
    "x": {"field": "x1", "type": "quantitative", "axis": null}, "x2": {"field": "x2"},
    "y": {"field": "y1", "type": "quantitative", "axis": null}, "y2": {"field": "y2"},
    "color": {"field": "part", "type": "nominal", "scale": {"domain": ["hdr", "box", "btn", "big"], "range": ["#e34646", "#ffffff", "#e4e4e4", "#c8171c"]}, "legend": null}}},
  {"data": {"values": [{"x": 8, "y": 77.846, "s": "SELL"}, {"x": 55.9, "y": 77.846, "s": "BUY"}]}, "mark": {"type": "text", "fontSize": 13, "color": "#ffecec", "align": "center", "baseline": "middle"},
   "encoding": {"x": {"field": "x", "type": "quantitative", "axis": null}, "y": {"field": "y", "type": "quantitative", "axis": null}, "text": {"field": "s"}}},
  {"data": {"values": [{"x": 40.2, "y": 77.846, "s": "0.01"}]}, "mark": {"type": "text", "fontSize": 13, "color": "#222222", "align": "right", "baseline": "middle"},
   "encoding": {"x": {"field": "x", "type": "quantitative", "axis": null}, "y": {"field": "y", "type": "quantitative", "axis": null}, "text": {"field": "s"}}},
  {"data": {"values": [{"x": 19.25, "y": 77.85, "s": "▼"}, {"x": 45.1, "y": 77.85, "s": "▲"}]}, "mark": {"type": "text", "fontSize": 7, "color": "#222222", "align": "center", "baseline": "middle"},
   "encoding": {"x": {"field": "x", "type": "quantitative", "axis": null}, "y": {"field": "y", "type": "quantitative", "axis": null}, "text": {"field": "s"}}},
  {"data": {"values": [{"x": 10.9, "y": 77.225, "s": "73"}, {"x": 42.4, "y": 77.225, "s": "73"}]}, "mark": {"type": "text", "fontSize": 14, "fontWeight": "bold", "color": "white", "align": "center", "baseline": "alphabetic"},
   "encoding": {"x": {"field": "x", "type": "quantitative", "axis": null}, "y": {"field": "y", "type": "quantitative", "axis": null}, "text": {"field": "s"}}},
  {"data": {"values": [{"x": 19.4, "y": 77.217, "s": "96"}, {"x": 50.9, "y": 77.217, "s": "98"}]}, "mark": {"type": "text", "fontSize": 37, "color": "white", "align": "center", "baseline": "alphabetic"},
   "encoding": {"x": {"field": "x", "type": "quantitative", "axis": null}, "y": {"field": "y", "type": "quantitative", "axis": null}, "text": {"field": "s"}}},
  {"data": {"values": [{"x": 26.1, "y": 77.445, "s": "9"}, {"x": 58, "y": 77.445, "s": "6"}]}, "mark": {"type": "text", "fontSize": 13, "fontWeight": "bold", "color": "white", "align": "center", "baseline": "alphabetic"},
   "encoding": {"x": {"field": "x", "type": "quantitative", "axis": null}, "y": {"field": "y", "type": "quantitative", "axis": null}, "text": {"field": "s"}}},
  {"data": {"values": [{"x": 1.9, "y": 78.17, "s": "▲"}]}, "mark": {"type": "text", "fontSize": 8, "color": "#222222", "align": "center", "baseline": "middle"},
   "encoding": {"x": {"field": "x", "type": "quantitative", "axis": null}, "y": {"field": "y", "type": "quantitative", "axis": null}, "text": {"field": "s"}}},
  {"data": {"values": [{"x": 4.7, "y": 78.17, "s": "USOILm,M30  73.643 74.044 73.639 73.969"}]}, "mark": {"type": "text", "fontSize": 12, "color": "#222222", "align": "left", "baseline": "middle"},
   "encoding": {"x": {"field": "x", "type": "quantitative", "axis": null}, "y": {"field": "y", "type": "quantitative", "axis": null}, "text": {"field": "s"}}}
 ]
},
{
 "width": 1856, "height": 255,
 "layer": [
  {"data": {"values": [{"v": 70}, {"v": 30}]}, "mark": {"type": "rule", "strokeDash": [10, 6], "color": "#c9a7b6", "strokeWidth": 1},
   "encoding": {"y": {"field": "v", "type": "quantitative", "scale": {"domain": [0, 100], "nice": false}, "axis": null}}},
  {"data": {"name": "rsi"}, "mark": {"type": "line", "color": "#8062c4", "strokeWidth": 1.5},
   "encoding": {"x": {"field": "i", "type": "quantitative", "scale": {"domain": [0, 464], "nice": false, "zero": false}, "axis": null},
     "y": {"field": "v", "type": "quantitative", "axis": null}}},
  {"data": {"values": [{"v": 100}, {"v": 70}, {"v": 30}, {"v": 0}]}, "mark": {"type": "rule", "color": "#3a4646", "strokeWidth": 1},
   "encoding": {"x": {"datum": 464, "axis": null}, "x2": {"datum": 464.75}, "y": {"field": "v", "type": "quantitative", "axis": null}}},
  {"data": {"values": [{"v": 70}, {"v": 30}]}, "mark": {"type": "text", "fontSize": 11, "color": "#333333", "align": "left", "baseline": "middle"},
   "encoding": {"x": {"datum": 465.4, "axis": null}, "y": {"field": "v", "type": "quantitative", "axis": null}, "text": {"field": "v", "type": "quantitative"}}},
  {"data": {"values": [{"v": 100}]}, "mark": {"type": "text", "fontSize": 11, "color": "#333333", "align": "left", "baseline": "middle", "dy": 9},
   "encoding": {"x": {"datum": 465.4, "axis": null}, "y": {"field": "v", "type": "quantitative", "axis": null}, "text": {"field": "v", "type": "quantitative"}}},
  {"data": {"values": [{"v": 0}]}, "mark": {"type": "text", "fontSize": 11, "color": "#333333", "align": "left", "baseline": "middle", "dy": -8},
   "encoding": {"x": {"datum": 465.4, "axis": null}, "y": {"field": "v", "type": "quantitative", "axis": null}, "text": {"field": "v", "type": "quantitative"}}},
  {"data": {"values": [{"x": 1, "y": 95.6, "s": "RSI(14) 46.2352"}]}, "mark": {"type": "text", "fontSize": 12, "color": "#333333", "align": "left", "baseline": "middle"},
   "encoding": {"x": {"field": "x", "type": "quantitative", "axis": null}, "y": {"field": "y", "type": "quantitative", "axis": null}, "text": {"field": "s"}}}
 ]
},
{
 "width": 1856, "height": 10,
 "data": {"values": [{"x": 2.5, "y": 0, "s": "Analyst Views"}]},
 "mark": {"type": "text", "fontSize": 11, "color": "#666666", "align": "left", "baseline": "middle", "clip": true},
 "encoding": {
  "x": {"field": "x", "type": "quantitative", "scale": {"domain": [0, 464], "nice": false, "zero": false},
   "axis": {"title": null, "values": [0, 24, 48, 72, 96, 120, 144, 168, 192, 216, 240, 264, 288], "labelExpr": "['3 Oct 2024','4 Oct 06:00','4 Oct 18:00','7 Oct 07:00','7 Oct 19:00','8 Oct 08:00','8 Oct 20:00','9 Oct 09:00','9 Oct 22:10','10 Oct 10:00','10 Oct 23:10','11 Oct 11:00','14 Oct 00:00'][round(datum.value/24)]", "labelAlign": "left", "labelPadding": 0, "labelOverlap": false, "labelBound": false, "labelFlush": false, "tickSize": 4}},
  "y": {"field": "y", "type": "quantitative", "scale": {"domain": [0, 1]}, "axis": null},
  "text": {"field": "s"}
 }
}
]
}
